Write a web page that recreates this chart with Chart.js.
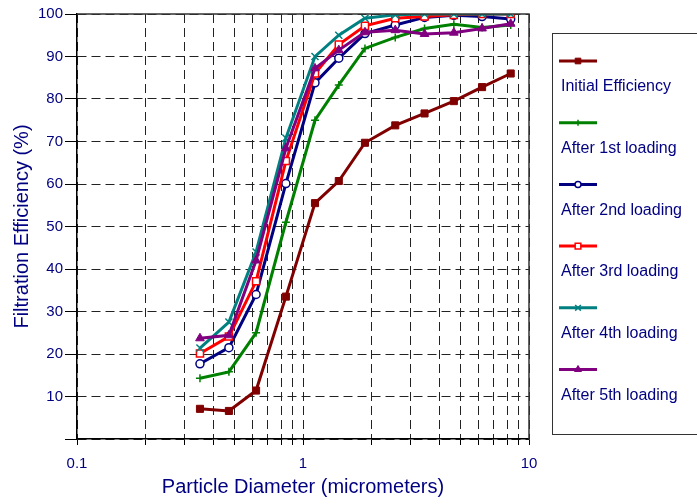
<!DOCTYPE html>
<html>
<head>
<meta charset="utf-8">
<script src="https://cdn.jsdelivr.net/npm/chart.js@4/dist/chart.umd.min.js"></script>
<style>
  body { margin: 0; background: #fff; }
  #wrap { width: 697px; height: 504px; }
</style>
</head>
<body>
<div id="wrap"><canvas id="filterChart" width="697" height="504"></canvas></div>
<script>
// Particle sizes (micrometers)
const diameters = [0.35, 0.47, 0.62, 0.84, 1.13, 1.44, 1.88, 2.56, 3.45, 4.65, 6.2, 8.3];

// Efficiency (%) per loading stage
const initialEff = [7.1, 6.6, 11.4, 33.5, 55.5, 60.7, 69.7, 73.8, 76.6, 79.5, 82.8, 86.0];
const after1st = [14.3, 15.8, 25.0, 51.0, 75.0, 83.3, 91.9, 94.5, 96.6, 97.6, 96.8, 97.4];
const after2nd = [17.7, 21.5, 34.0, 60.1, 83.8, 89.6, 95.4, 97.4, 99.2, 99.7, 99.4, 98.8];
const after3rd = [20.1, 24.1, 37.1, 65.4, 86.0, 92.8, 97.2, 99.0, 99.4, 99.8, 100, 100];
const after4th = [21.4, 27.5, 44.0, 70.8, 90.0, 95.0, 99.0, 99.8, 100, 100, 100, 100];
const after5th = [23.7, 24.4, 42.0, 68.4, 87.2, 91.5, 95.7, 96.2, 95.3, 95.6, 96.6, 97.7];

const seriesNames = ["Initial Efficiency", "After 1st loading", "After 2nd loading",
  "After 3rd loading", "After 4th loading", "After 5th loading"];

// Log axis ticks
const xTickVals = [0.1, 0.2, 0.3, 0.4, 0.5, 0.6, 0.7, 0.8, 0.9, 1, 2, 3, 4, 5, 6, 7, 8, 9, 10];
const xLabelVals = [0.1, 1, 10];

const navy = "#000080";
const fontFam = "'Liberation Sans', Arial, sans-serif";

function makeSet(idx, values, color, style, radius, bg, bw) {
  return {
    label: seriesNames[idx],
    data: diameters.map((d, i) => ({ x: d, y: values[i] })),
    borderColor: color,
    backgroundColor: bg,
    borderWidth: 3,
    pointStyle: style,
    pointRadius: radius,
    pointBorderColor: color,
    pointBackgroundColor: bg,
    pointBorderWidth: bw,
    tension: 0,
    order: 6 - idx,
  };
}

const datasets = [
  makeSet(0, initialEff, "#800000", "rect", 5, "#800000", 1),
  makeSet(1, after1st, "#008000", "cross", 4, "#008000", 1.5),
  makeSet(2, after2nd, "#000080", "circle", 4, "#ffffff", 1.5),
  makeSet(3, after3rd, "#ff0000", "rect", 5, "#ffffff", 1.5),
  makeSet(4, after4th, "#008080", "crossRot", 5, "#008080", 1.5),
  makeSet(5, after5th, "#800080", "triangle", 5, "#800080", 1),
];

// Frame + custom legend (sample line above the text)
const frameAndLegend = {
  id: "frameAndLegend",
  afterDatasetsDraw(chart) {
    const { ctx, chartArea: a } = chart;
    ctx.save();
    ctx.strokeStyle = "#333";
    ctx.lineWidth = 1.5;
    ctx.beginPath();
    ctx.moveTo(a.left, a.top);
    ctx.lineTo(a.right, a.top);
    ctx.lineTo(a.right, a.bottom);
    ctx.stroke();
    ctx.restore();
  },
  afterDraw(chart) {
    const ctx = chart.ctx;
    ctx.save();
    ctx.strokeStyle = "#333";
    ctx.lineWidth = 1;
    ctx.strokeRect(552.5, 33.5, 160, 401);

    chart.data.datasets.forEach((ds, i) => {
      const ly = 61 + i * 61.7;
      ctx.strokeStyle = ds.borderColor;
      ctx.lineWidth = 3;
      ctx.beginPath();
      ctx.moveTo(559, ly);
      ctx.lineTo(597, ly);
      ctx.stroke();

      ctx.fillStyle = ds.pointBackgroundColor;
      ctx.strokeStyle = ds.borderColor;
      ctx.lineWidth = ds.pointBorderWidth;
      if (Chart.helpers && Chart.helpers.drawPoint) {
        Chart.helpers.drawPoint(ctx, {
          pointStyle: ds.pointStyle,
          radius: ds.pointRadius - 1,
          borderWidth: ds.pointBorderWidth,
          rotation: 0,
        }, 578, ly);
      }

      ctx.fillStyle = navy;
      ctx.font = "16px " + fontFam;
      ctx.textAlign = "left";
      ctx.textBaseline = "middle";
      ctx.fillText(ds.label, 561, ly + 25.7);
    });
    ctx.restore();
  },
};

new Chart(document.getElementById("filterChart"), {
  type: "line",
  data: { datasets: datasets },
  options: {
    responsive: false,
    animation: false,
    layout: { padding: { top: 14, right: 168, left: 0, bottom: 0 } },
    plugins: {
      legend: { display: false },
      tooltip: { enabled: false },
    },
    scales: {
      x: {
        type: "logarithmic",
        min: 0.1,
        max: 10,
        afterBuildTicks: (scale) => {
          scale.ticks = xTickVals.map((v) => ({ value: v }));
        },
        afterFit: (scale) => { scale.height = 65; },
        ticks: {
          autoSkip: false,
          maxRotation: 0,
          padding: 10,
          color: navy,
          font: { family: fontFam, size: 15 },
          callback: (v) => (xLabelVals.includes(v) ? String(v) : ""),
        },
        grid: {
          color: "#222",
          lineWidth: 1,
          tickLength: 6,
          tickColor: "#000",
          tickBorderDash: [],
        },
        border: { color: "#000", width: 1.5, dash: [9, 5] },
        title: {
          display: true,
          text: "Particle Diameter (micrometers)",
          color: navy,
          font: { family: fontFam, size: 20 },
          padding: { top: 0, bottom: 5 },
        },
      },
      y: {
        min: 0,
        max: 100,
        afterFit: (scale) => { scale.width = 77; },
        ticks: {
          stepSize: 10,
          padding: 2,
          color: navy,
          font: { family: fontFam, size: 15 },
          callback: (v) => (v === 0 ? "" : String(v)),
        },
        grid: {
          color: "#222",
          lineWidth: 1,
          tickLength: 12,
          tickColor: "#000",
          tickBorderDash: [],
        },
        border: { color: "#000", width: 1.5, dash: [9, 5] },
        title: {
          display: true,
          text: "Filtration Efficiency (%)",
          color: navy,
          font: { family: fontFam, size: 20 },
          padding: { top: 10, bottom: 0 },
        },
      },
    },
  },
  plugins: [frameAndLegend],
});
</script>
</body>
</html>
